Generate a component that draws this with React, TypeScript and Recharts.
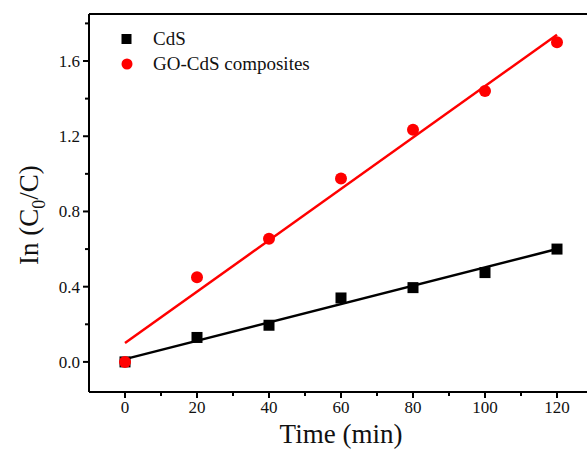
import {
  ComposedChart,
  Line,
  Scatter,
  XAxis,
  YAxis,
  Legend,
  ReferenceLine,
  Label,
} from 'recharts';

// time points (min)
const times = [0, 20, 40, 60, 80, 100, 120];
// ln(C0/C)
const cdsValues = [0, 0.13, 0.195, 0.34, 0.395, 0.475, 0.6];
const goCdsValues = [0, 0.45, 0.655, 0.975, 1.235, 1.44, 1.7];

// linear fit end points
const fitTimes = [0, 120];
const cdsFitValues = [0.015, 0.6];
const goCdsFitValues = [0.1, 1.74];

const xMajor = [0, 20, 40, 60, 80, 100, 120];
const xMinor = [10, 30, 50, 70, 90, 110, 130];
const yMajor = [0, 0.4, 0.8, 1.2, 1.6];
const yMinor = [0.2, 0.6, 1.0, 1.4, 1.8];

const X_DOMAIN: [number, number] = [-10, 130];
const Y_DOMAIN: [number, number] = [-0.16, 1.85];

const FONT = '"Liberation Serif", "Times New Roman", serif';
const TICK_SIZE = 6;
const TICK_MARGIN = 3;

const cds = times.map((x, i) => ({ x, y: cdsValues[i] }));
const goCds = times.map((x, i) => ({ x, y: goCdsValues[i] }));
const cdsFit = fitTimes.map((x, i) => ({ x, y: cdsFitValues[i] }));
const goCdsFit = fitTimes.map((x, i) => ({ x, y: goCdsFitValues[i] }));

const xTicks = [...xMajor, ...xMinor].sort((a, b) => a - b);
const yTicks = [...yMajor, ...yMinor].sort((a, b) => a - b);

function XTick(props: any) {
  const { x, y, payload } = props;
  const major = xMajor.includes(payload.value);
  const y0 = y - TICK_SIZE - TICK_MARGIN;
  return (
    <g>
      <line x1={x} x2={x} y1={y0} y2={y0 + (major ? 6 : 4)} stroke="#000" strokeWidth={2} />
      {major && (
        <text x={x} y={y} dy="0.71em" textAnchor="middle" fontFamily={FONT} fontSize={17} fill="#111">
          {payload.value}
        </text>
      )}
    </g>
  );
}

function YTick(props: any) {
  const { x, y, payload } = props;
  const major = yMajor.includes(payload.value);
  const x0 = x + TICK_SIZE + TICK_MARGIN;
  return (
    <g>
      <line x1={x0} x2={x0 - (major ? 6 : 4)} y1={y} y2={y} stroke="#000" strokeWidth={2} />
      {major && (
        <text x={x} y={y} dy="0.355em" textAnchor="end" fontFamily={FONT} fontSize={17} fill="#111">
          {payload.value.toFixed(1)}
        </text>
      )}
    </g>
  );
}

const squareShape = (p: any) => <rect x={p.cx - 5.5} y={p.cy - 5.5} width={11} height={11} fill="#000" />;
const circleShape = (p: any) => <circle cx={p.cx} cy={p.cy} r={6} fill="#ff0000" />;

function LegendBox() {
  const items = [
    { name: 'CdS', shape: <rect x={1.5} y={2} width={10} height={10} fill="#000" /> },
    { name: 'GO-CdS composites', shape: <circle cx={7} cy={7} r={5.5} fill="#ff0000" /> },
  ];
  return (
    <div style={{ fontFamily: FONT, fontSize: 19, color: '#111' }}>
      {items.map((it) => (
        <div key={it.name} style={{ display: 'flex', alignItems: 'center', height: 25, whiteSpace: 'nowrap' }}>
          <svg width={14} height={14} style={{ marginRight: 19 }}>
            {it.shape}
          </svg>
          <span>{it.name}</span>
        </div>
      ))}
    </div>
  );
}

function YLabel(props: any) {
  const { viewBox } = props;
  const cx = viewBox.x + 9;
  const cy = 215;
  return (
    <text x={cx} y={cy} transform={`rotate(-90, ${cx}, ${cy})`} textAnchor="middle" fontFamily={FONT} fontSize={27} fill="#111">
      In (C
      <tspan dy={7} fontSize={18}>0</tspan>
      <tspan dy={-7}>/C)</tspan>
    </text>
  );
}

function XLabel(props: any) {
  const { viewBox } = props;
  return (
    <text x={viewBox.x + viewBox.width / 2} y={viewBox.y + 51} textAnchor="middle" fontFamily={FONT} fontSize={27} fill="#111">
      Time (min)
    </text>
  );
}

export default function App() {
  return (
    <div style={{ position: 'absolute', left: 0, top: 0, width: 587, height: 450, overflow: 'hidden', background: '#fff' }}>
      <ComposedChart width={620} height={450} margin={{ top: 14, right: 27, bottom: 28, left: 29 }}>
        <XAxis
          type="number"
          dataKey="x"
          domain={X_DOMAIN}
          ticks={xTicks}
          interval={0}
          allowDataOverflow
          height={30}
          tickSize={TICK_SIZE}
          tickMargin={TICK_MARGIN}
          tickLine={false}
          tick={<XTick />}
          axisLine={{ stroke: '#000', strokeWidth: 2 }}
        >
          <Label content={<XLabel />} />
        </XAxis>
        <YAxis
          type="number"
          dataKey="y"
          domain={Y_DOMAIN}
          ticks={yTicks}
          interval={0}
          allowDataOverflow
          width={60}
          tickSize={TICK_SIZE}
          tickMargin={TICK_MARGIN}
          tickLine={false}
          tick={<YTick />}
          axisLine={{ stroke: '#000', strokeWidth: 2 }}
        >
          <Label content={<YLabel />} />
        </YAxis>
        <ReferenceLine y={Y_DOMAIN[1]} stroke="#000" strokeWidth={2} />
        <ReferenceLine x={X_DOMAIN[1]} stroke="#000" strokeWidth={2} />
        <Line data={goCdsFit} dataKey="y" stroke="#ff0000" strokeWidth={2.5} dot={false} isAnimationActive={false} legendType="none" />
        <Line data={cdsFit} dataKey="y" stroke="#000" strokeWidth={2.5} dot={false} isAnimationActive={false} legendType="none" />
        <Scatter name="CdS" data={cds} dataKey="y" shape={squareShape} isAnimationActive={false} />
        <Scatter name="GO-CdS composites" data={goCds} dataKey="y" shape={circleShape} isAnimationActive={false} />
        <Legend
          layout="vertical"
          align="center"
          verticalAlign="middle"
          content={<LegendBox />}
          wrapperStyle={{ top: 26, left: 120, width: 'auto', height: 'auto' }}
        />
      </ComposedChart>
    </div>
  );
}
